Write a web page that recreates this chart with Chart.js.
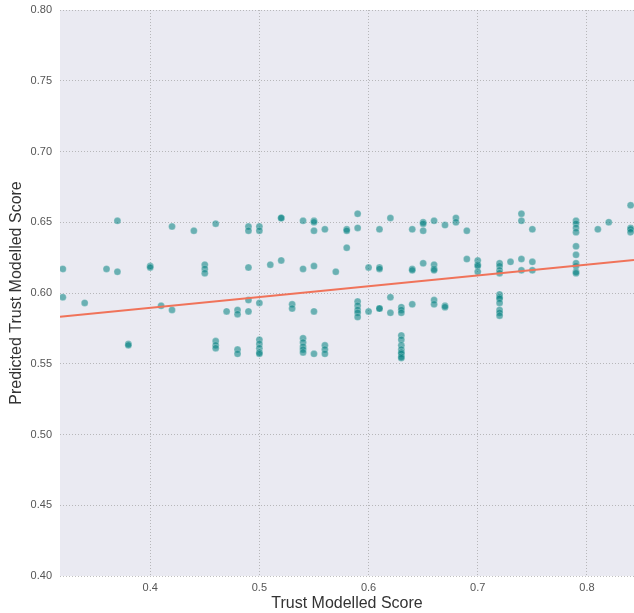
<!DOCTYPE html>
<html>
<head>
<meta charset="utf-8">
<script src="https://cdn.jsdelivr.net/npm/chart.js@4"></script>
<style>
  html, body { margin: 0; padding: 0; background: #fff; }
  #wrap { width: 634px; height: 613px; }
</style>
</head>
<body>
<div id="wrap"><canvas id="myChart" width="634" height="613"></canvas></div>
<script>
const trustScore = [
  0.32, 0.32, 0.34, 0.36, 0.37, 0.37, 0.38, 0.38, 0.40, 0.40,
  0.41, 0.42, 0.42, 0.44, 0.45, 0.45, 0.45, 0.46, 0.46, 0.46, 0.46,
  0.47, 0.48, 0.48, 0.48, 0.48, 0.49, 0.49, 0.49, 0.49, 0.49,
  0.50, 0.50, 0.50, 0.50, 0.50, 0.50, 0.50, 0.50, 0.51, 0.52, 0.52, 0.52,
  0.53, 0.53, 0.54, 0.54, 0.54, 0.54, 0.54, 0.54, 0.54,
  0.55, 0.55, 0.55, 0.55, 0.55, 0.55, 0.56, 0.56, 0.56, 0.56, 0.57,
  0.58, 0.58, 0.58, 0.59, 0.59, 0.59, 0.59, 0.59, 0.59, 0.59,
  0.60, 0.60, 0.61, 0.61, 0.61, 0.61, 0.61, 0.62, 0.62, 0.62,
  0.63, 0.63, 0.63, 0.63, 0.63, 0.63, 0.63, 0.63, 0.63, 0.63, 0.63,
  0.64, 0.64, 0.64, 0.64, 0.65, 0.65, 0.65, 0.65,
  0.66, 0.66, 0.66, 0.66, 0.66, 0.66, 0.67, 0.67, 0.67, 0.68, 0.68, 0.69, 0.69,
  0.70, 0.70, 0.70, 0.70,
  0.72, 0.72, 0.72, 0.72, 0.72, 0.72, 0.72, 0.72, 0.72, 0.72, 0.72,
  0.73, 0.74, 0.74, 0.74, 0.74, 0.75, 0.75, 0.75,
  0.79, 0.79, 0.79, 0.79, 0.79, 0.79, 0.79, 0.79, 0.79, 0.79,
  0.81, 0.82, 0.84, 0.84, 0.84, 0.84
];
const predictedScore = [
  0.617, 0.597, 0.593, 0.617, 0.651, 0.615, 0.564, 0.563, 0.619, 0.618,
  0.591, 0.647, 0.588, 0.644, 0.620, 0.617, 0.614, 0.649, 0.566, 0.563, 0.561,
  0.587, 0.588, 0.585, 0.560, 0.557, 0.647, 0.644, 0.618, 0.595, 0.587,
  0.647, 0.644, 0.593, 0.567, 0.564, 0.561, 0.558, 0.557, 0.620, 0.653, 0.653, 0.623,
  0.592, 0.589, 0.651, 0.617, 0.568, 0.565, 0.562, 0.560, 0.558,
  0.651, 0.650, 0.644, 0.619, 0.587, 0.557, 0.645, 0.563, 0.560, 0.557, 0.615,
  0.645, 0.644, 0.632, 0.656, 0.646, 0.594, 0.591, 0.588, 0.586, 0.583,
  0.618, 0.587, 0.645, 0.618, 0.617, 0.589, 0.589, 0.653, 0.597, 0.586,
  0.590, 0.588, 0.586, 0.570, 0.567, 0.563, 0.560, 0.558, 0.557, 0.555, 0.554,
  0.645, 0.617, 0.616, 0.592, 0.650, 0.649, 0.644, 0.621,
  0.651, 0.620, 0.617, 0.616, 0.595, 0.592, 0.648, 0.591, 0.590, 0.653, 0.650, 0.644, 0.624,
  0.623, 0.620, 0.619, 0.615,
  0.621, 0.619, 0.616, 0.614, 0.599, 0.597, 0.596, 0.593, 0.588, 0.586, 0.584,
  0.622, 0.656, 0.651, 0.624, 0.616, 0.645, 0.622, 0.616,
  0.651, 0.649, 0.646, 0.643, 0.633, 0.627, 0.621, 0.619, 0.615, 0.614,
  0.645, 0.650, 0.662, 0.646, 0.645, 0.643
];
// regression line ends
const fitX = [0.3174, 0.8431];
const fitY = [0.5833, 0.6233];

const xTicks = [0.4, 0.5, 0.6, 0.7, 0.8];
const yTicks = [0.40, 0.45, 0.50, 0.55, 0.60, 0.65, 0.70, 0.75, 0.80];

let points = trustScore.map((x, i) => ({x: x, y: predictedScore[i]}));
let fitLine = fitX.map((x, i) => ({x: x, y: fitY[i]}));

const plotBg = {
  id: 'plotBg',
  beforeDraw: (chart) => {
    let {ctx, chartArea} = chart;
    ctx.save();
    ctx.fillStyle = '#EAEAF2';
    ctx.fillRect(chartArea.left, chartArea.top, chartArea.right - chartArea.left, chartArea.bottom - chartArea.top);
    ctx.restore();
  }
};

const gridStyle = {
  color: 'rgba(140,140,140,0.55)',
  lineWidth: 1,
  drawTicks: false
};
const tickFont = { family: 'Liberation Sans, Arial, sans-serif', size: 11 };
const titleFont = { family: 'Liberation Sans, Arial, sans-serif', size: 16 };

let ctx = document.getElementById('myChart').getContext('2d');
let chart = new Chart(ctx, {
  type: 'scatter',
  data: {
    datasets: [
      {
        data: points,
        backgroundColor: 'rgba(0,128,128,0.55)',
        borderColor: 'rgba(255,255,255,0.45)',
        borderWidth: 0.5,
        pointRadius: 3.5,
        order: 2
      },
      {
        type: 'line',
        data: fitLine,
        borderColor: '#F0735A',
        borderWidth: 2,
        pointRadius: 0,
        fill: false,
        order: 1
      }
    ]
  },
  options: {
    responsive: false,
    animation: false,
    layout: { autoPadding: false, padding: { top: 10, right: 0, left: 0, bottom: 0 } },
    plugins: {
      legend: { display: false },
      tooltip: { enabled: false }
    },
    scales: {
      x: {
        type: 'linear',
        min: 0.3174,
        max: 0.8431,
        afterBuildTicks: (scale) => { scale.ticks = xTicks.map(v => ({value: v})); },
        afterFit: (scale) => {
          scale.height = 37;
          scale.paddingLeft = 0;
          scale.paddingRight = 0;
        },
        grid: gridStyle,
        border: { display: false, dash: [1, 2] },
        ticks: {
          padding: 5,
          color: '#555',
          font: tickFont,
          callback: (v) => v.toFixed(1)
        },
        title: {
          display: true,
          text: 'Trust Modelled Score',
          color: '#333',
          padding: { top: 0, bottom: 0 },
          font: titleFont
        }
      },
      y: {
        type: 'linear',
        min: 0.40,
        max: 0.80,
        afterBuildTicks: (scale) => { scale.ticks = yTicks.map(v => ({value: v})); },
        afterFit: (scale) => {
          scale.width = 60;
          scale.paddingTop = 0;
          scale.paddingBottom = 0;
        },
        grid: gridStyle,
        border: { display: false, dash: [1, 2] },
        ticks: {
          padding: 8,
          color: '#555',
          font: tickFont,
          callback: (v) => v.toFixed(2)
        },
        title: {
          display: true,
          text: 'Predicted Trust Modelled Score',
          color: '#333',
          padding: { top: 7, bottom: 0 },
          font: titleFont
        }
      }
    }
  },
  plugins: [plotBg]
});
</script>
</body>
</html>
